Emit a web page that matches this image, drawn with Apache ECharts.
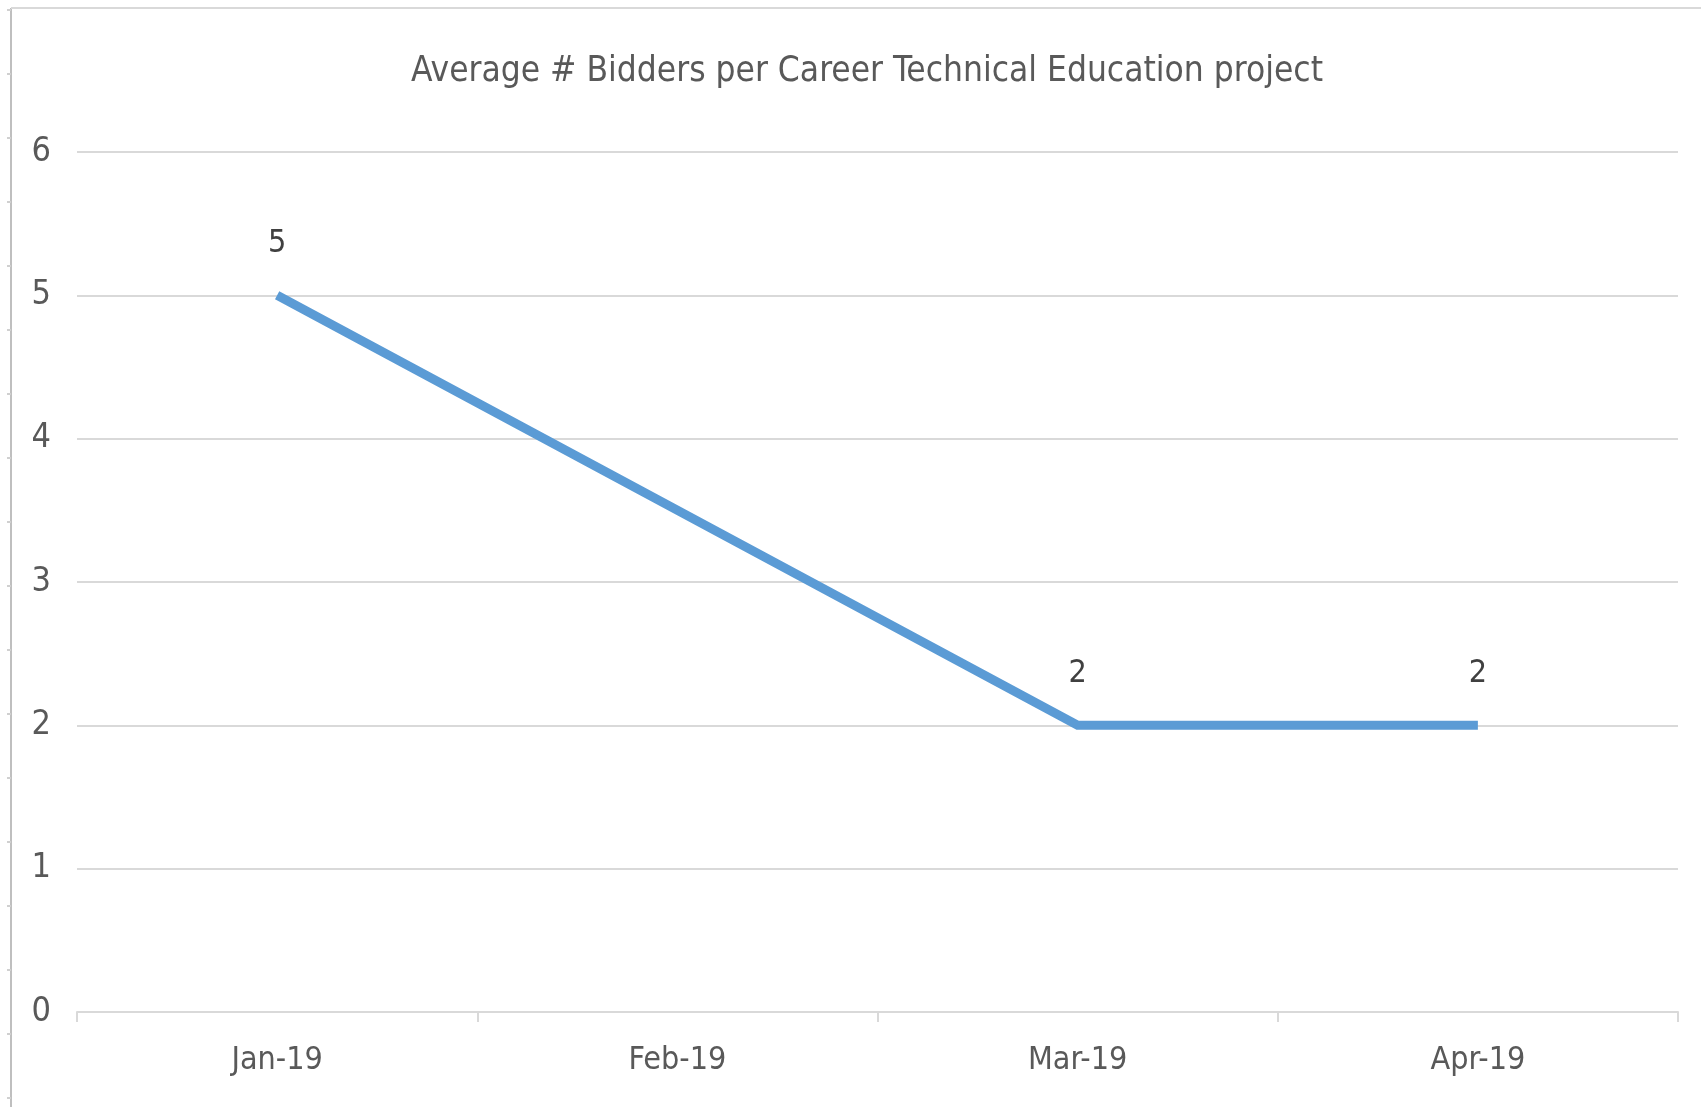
<!DOCTYPE html>
<html>
<head>
<meta charset="utf-8">
<script src="https://cdn.jsdelivr.net/npm/echarts@6/dist/echarts.min.js"></script>
<style>
  html, body { margin: 0; padding: 0; background: #fff; }
  #chart { width: 1701px; height: 1107px; }
</style>
</head>
<body>
<div id="chart"></div>
<script>
var chartTitle = "Average # Bidders per Career Technical Education project";
var months = ["Jan-19", "Feb-19", "Mar-19", "Apr-19"];
var avgBidders = [5, null, 2, 2];
var yTicks = [0, 1, 2, 3, 4, 5, 6];

var FONT = "'Liberation Sans Narrow', 'DejaVu Sans Condensed', sans-serif";

// little marks along the left border (spreadsheet artifact)
var borderMarks = [];
for (var y = 10; y < 1107; y += 64) {
    borderMarks.push({
        type: "line",
        shape: { x1: 7, y1: y, x2: 11, y2: y },
        style: { stroke: "#d0d0d0", lineWidth: 2 }
    });
}

var myChart = echarts.init(document.getElementById("chart"));
var option = {
    backgroundColor: "#fff",
    animation: false,
    title: {
        text: chartTitle,
        left: 862,
        top: 49,
        textAlign: "center",
        textStyle: { fontFamily: FONT, fontSize: 35, fontWeight: "normal", color: "#595959" }
    },
    grid: { left: 77, right: 23, top: 152, bottom: 95 },
    xAxis: {
        type: "category",
        data: months,
        boundaryGap: true,
        axisLine: { lineStyle: { color: "#d9d9d9", width: 2 } },
        axisTick: { show: true, length: 10, lineStyle: { color: "#d9d9d9", width: 2 } },
        axisLabel: { margin: 33, fontFamily: FONT, fontSize: 32, color: "#595959" }
    },
    yAxis: {
        type: "value",
        min: yTicks[0],
        max: yTicks[yTicks.length - 1],
        interval: 1,
        axisLine: { show: false },
        axisTick: { show: false },
        splitLine: { lineStyle: { color: "#d9d9d9", width: 2 } },
        axisLabel: { margin: 26, fontFamily: FONT, fontSize: 34, color: "#595959" }
    },
    series: [{
        type: "line",
        data: avgBidders,
        connectNulls: true,
        showSymbol: true,
        symbol: "circle",
        symbolSize: 0,
        lineStyle: { color: "#5b9bd5", width: 9, cap: "butt", join: "miter" },
        itemStyle: { color: "#5b9bd5" },
        label: {
            show: true,
            position: "top",
            distance: 36,
            fontFamily: FONT,
            fontSize: 32,
            color: "#404040"
        }
    }],
    graphic: [{
        type: "line",
        shape: { x1: 11, y1: 8, x2: 11, y2: 1107 },
        style: { stroke: "#bfbfbf", lineWidth: 2 }
    }, {
        type: "line",
        shape: { x1: 11, y1: 8, x2: 1701, y2: 8 },
        style: { stroke: "#d9d9d9", lineWidth: 2 }
    }].concat(borderMarks)
};
myChart.setOption(option);
</script>
</body>
</html>
